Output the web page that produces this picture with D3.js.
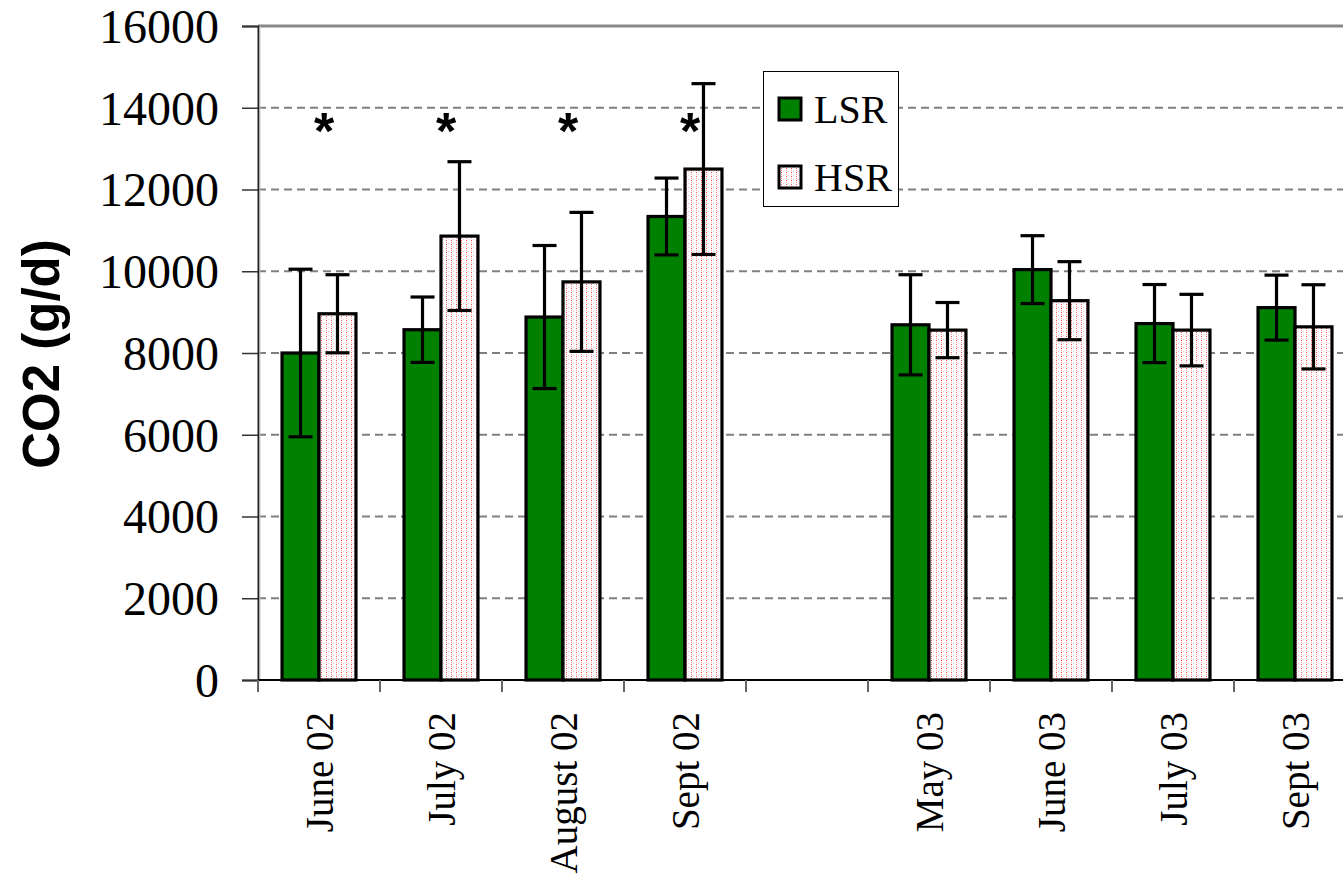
<!DOCTYPE html>
<html>
<head>
<meta charset="utf-8">
<script src="https://cdn.jsdelivr.net/npm/d3@7"></script>
<style>
  html, body { margin: 0; padding: 0; background: #fff; overflow: hidden; }
  svg { display: block; }
</style>
</head>
<body>
<svg id="chart" width="1343" height="877"></svg>
<script>
// Sampling months (the empty slot separates the two seasons)
const categories = ["June 02", "July 02", "August 02", "Sept 02", "", "May 03", "June 03", "July 03", "Sept 03"];
const seriesNames = ["LSR", "HSR"];

// Mean CO2 emission (g/d) and error (±) per month
const lsrValues = [8000, 8570, 8880, 11340, null, 8690, 10040, 8720, 9110];
const lsrErrors = [2050, 800, 1750, 940, null, 1225, 830, 955, 795];
const hsrValues = [8960, 10860, 9740, 12500, null, 8560, 9280, 8560, 8640];
const hsrErrors = [955, 1820, 1700, 2090, null, 675, 955, 875, 1030];

// Months flagged as significantly different
const significant = ["June 02", "July 02", "August 02", "Sept 02"];
const yTicks = [0, 2000, 4000, 6000, 8000, 10000, 12000, 14000, 16000];

const svg = d3.select("#chart");
const plotLeft = 258, plotTop = 26, plotBottom = 680;

const x = d3.scaleBand().domain(categories).range([plotLeft, 1356]).paddingInner(0).paddingOuter(0);
const xs = d3.scaleBand().domain(seriesNames).range([0, x.bandwidth()]).paddingInner(0).paddingOuter(0.65);
const y = d3.scaleLinear().domain([0, 16000]).range([plotBottom, plotTop]);

const green = "#008000";
const serif = "'Liberation Serif', 'Times New Roman', serif";
const sans = "'Liberation Sans', Arial, sans-serif";

// Dotted pink fill for the HSR bars
const defs = svg.append("defs");
const pat = defs.append("pattern").attr("id", "dots").attr("patternUnits", "userSpaceOnUse")
  .attr("width", 5).attr("height", 4);
pat.append("rect").attr("width", 5).attr("height", 4).attr("fill", "#fff");
pat.append("rect").attr("x", 1).attr("y", 0).attr("width", 1).attr("height", 1).attr("fill", "#ff5050");
pat.append("rect").attr("x", 1).attr("y", 2).attr("width", 1).attr("height", 1).attr("fill", "#ffa0a0");
pat.append("rect").attr("x", 3).attr("y", 3).attr("width", 1).attr("height", 1).attr("fill", "#ffc4c4");

// Gridlines
svg.append("g").selectAll("line").data(yTicks.filter(d => d > 0 && d < 16000)).join("line")
  .attr("x1", plotLeft).attr("x2", 1343)
  .attr("y1", d => y(d)).attr("y2", d => y(d))
  .attr("stroke", "#808080").attr("stroke-width", 2).attr("stroke-dasharray", "8,5");

// Top border of the plot area
svg.append("line").attr("x1", plotLeft).attr("x2", 1343).attr("y1", y(16000)).attr("y2", y(16000))
  .attr("stroke", "#888").attr("stroke-width", 3);

// Y axis
const yAxis = d3.axisLeft(y).tickValues(yTicks).tickSize(16).tickPadding(23).tickFormat(d3.format("d"));
const gy = svg.append("g").attr("transform", `translate(${plotLeft},0)`).call(yAxis);
gy.select(".domain").attr("stroke", "#222").attr("stroke-width", 2);
gy.selectAll(".tick line").attr("stroke", "#333").attr("stroke-width", 1.5);
gy.selectAll(".tick text").attr("font-family", serif).attr("font-size", 48).attr("fill", "#000").attr("dy", "0.34em");
svg.append("line").attr("x1", plotLeft + 2).attr("x2", plotLeft + 2).attr("y1", plotTop).attr("y2", plotBottom)
  .attr("stroke", "#ccc").attr("stroke-width", 1);

// Bars
const rows = categories.map((c, i) => ({ c, lsr: lsrValues[i], lsrE: lsrErrors[i], hsr: hsrValues[i], hsrE: hsrErrors[i] }))
  .filter(r => r.lsr != null);
const barData = [];
rows.forEach(r => {
  barData.push({ c: r.c, s: "LSR", v: r.lsr, e: r.lsrE });
  barData.push({ c: r.c, s: "HSR", v: r.hsr, e: r.hsrE });
});

svg.append("g").selectAll("rect").data(barData).join("rect")
  .attr("x", d => x(d.c) + xs(d.s))
  .attr("y", d => y(d.v))
  .attr("width", xs.bandwidth())
  .attr("height", d => y(0) - y(d.v))
  .attr("fill", d => d.s === "LSR" ? green : "url(#dots)")
  .attr("stroke", "#000").attr("stroke-width", 3.2);

// Error bars
const eb = svg.append("g").attr("stroke", "#000").attr("stroke-width", 3.2);
barData.forEach(d => {
  const cx = x(d.c) + xs(d.s) + xs.bandwidth() / 2;
  eb.append("line").attr("x1", cx).attr("x2", cx).attr("y1", y(d.v + d.e)).attr("y2", y(d.v - d.e));
  [d.v + d.e, d.v - d.e].forEach(v => {
    eb.append("line").attr("x1", cx - 12).attr("x2", cx + 12).attr("y1", y(v)).attr("y2", y(v));
  });
});

// X axis
svg.append("line").attr("x1", plotLeft).attr("x2", 1343).attr("y1", y(0)).attr("y2", y(0))
  .attr("stroke", "#000").attr("stroke-width", 2);
const boundaries = categories.map(c => x(c));
svg.append("g").selectAll("line").data(boundaries).join("line")
  .attr("x1", d => d).attr("x2", d => d).attr("y1", y(0)).attr("y2", y(0) + 12)
  .attr("stroke", "#666").attr("stroke-width", 2);

svg.append("g").selectAll("text").data(categories.filter(c => c !== "")).join("text")
  .attr("transform", d => `translate(${x(d) + x.bandwidth() / 2},712) rotate(-90)`)
  .attr("text-anchor", "end").attr("dy", "0.35em")
  .attr("font-family", serif).attr("font-size", 39).attr("fill", "#000")
  .text(d => d);

// Significance markers
svg.append("g").selectAll("text").data(significant).join("text")
  .attr("x", d => x(d) + x.bandwidth() / 2 + 5)
  .attr("y", y(13000))
  .attr("text-anchor", "middle")
  .attr("font-family", sans).attr("font-weight", "bold").attr("font-size", 52)
  .text("*");

// Y axis title
svg.append("text")
  .attr("transform", "translate(59,354) rotate(-90)")
  .attr("text-anchor", "middle")
  .attr("font-family", sans).attr("font-weight", "bold").attr("font-size", 51)
  .text("CO2 (g/d)");

// Legend
const lg = svg.append("g");
lg.append("rect").attr("x", 763.5).attr("y", 71.5).attr("width", 135).attr("height", 135)
  .attr("fill", "#fff").attr("stroke", "#000").attr("stroke-width", 1);
seriesNames.forEach((s, i) => {
  const cy = 109 + i * 68;
  lg.append("rect").attr("x", 779).attr("y", cy - 11).attr("width", 22).attr("height", 22)
    .attr("fill", s === "LSR" ? green : "url(#dots)").attr("stroke", "#000").attr("stroke-width", 3);
  lg.append("text").attr("x", 814).attr("y", cy).attr("dy", "0.35em")
    .attr("font-family", serif).attr("font-size", 40).attr("fill", "#000").text(s);
});
</script>
</body>
</html>
